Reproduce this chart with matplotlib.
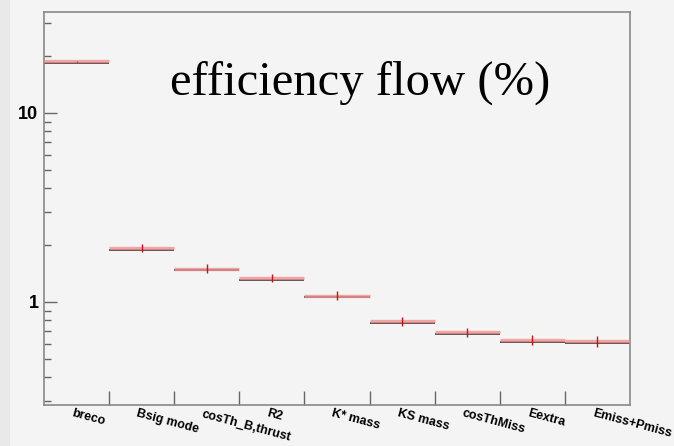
import matplotlib.pyplot as plt
import matplotlib.transforms as mtransforms
from matplotlib.patches import Rectangle
from matplotlib.ticker import LogLocator, NullFormatter, FixedLocator
import numpy as np

# selection steps and efficiency (%)
steps = ['breco', 'Bsig mode', 'cosTh_B,thrust', 'R2', 'K* mass',
         'KS mass', 'cosThMiss', 'Eextra', 'Emiss+Pmiss']
eff = [18.8, 1.93, 1.50, 1.34, 1.08, 0.79, 0.69, 0.63, 0.62]
err = [0.15, 0.09, 0.08, 0.07, 0.06, 0.045, 0.04, 0.04, 0.04]

bg = '#f4f4f4'
fig = plt.figure(figsize=(6.74, 4.46), dpi=100, facecolor=bg)
# darker stripe at the left edge of the slide
fig.patches.append(Rectangle((0, 0), 0.015, 1, transform=fig.transFigure,
                             facecolor='#e9e9e9', edgecolor='none', zorder=0))

ax = fig.add_axes([0.0653, 0.0919, 0.8694, 0.8811])
ax.set_facecolor(bg)
ax.set_yscale('log')
ax.set_xlim(0, len(steps))
ax.set_ylim(0.285, 34.2)

left = np.arange(len(steps))
right = left + 1
centers = left + 0.5

# black histogram line, drawn a touch lower than the red one
shift = mtransforms.offset_copy(ax.transData, fig=fig, y=-1.8, units='dots')
ax.hlines(eff, left, right, colors='#333333', lw=1.2, transform=shift, zorder=2)
ax.hlines(eff, left, right, colors='#f29090', lw=2.4, alpha=0.8, zorder=3)
ax.errorbar(centers, eff, yerr=err, fmt='none', ecolor='#cc1111', elinewidth=1,
            capsize=0, zorder=4)

ax.text(0.54, 0.82, 'efficiency flow (%)', transform=ax.transAxes,
        ha='center', va='center', fontsize=35, family='Liberation Serif')

# root-like axes
for s in ax.spines.values():
    s.set_color('#888888')
    s.set_linewidth(1.2)

ax.yaxis.set_major_locator(FixedLocator([1, 10]))
ax.yaxis.set_minor_locator(LogLocator(base=10, subs=np.arange(2, 10)))
ax.yaxis.set_minor_formatter(NullFormatter())
ax.set_yticklabels(['1', '10'], fontweight='bold', family='Liberation Sans',
                   fontsize=13)
ax.tick_params(axis='y', which='major', direction='in', length=9, width=1,
               color='#666666', pad=4)
ax.tick_params(axis='y', which='minor', direction='in', length=5, width=1,
               color='#666666')

ax.set_xticks(np.arange(1, len(steps)))
ax.set_xticklabels([])
ax.tick_params(axis='x', which='major', direction='in', length=10, width=1,
               color='#666666')
ax.tick_params(axis='x', which='minor', length=0)
ax.set_xticks(centers - 0.05, minor=True)
ax.set_xticklabels(steps, minor=True, rotation=-15, ha='left', va='top',
                   fontweight='bold', family='Liberation Sans', fontsize=9,
                   rotation_mode='anchor')
ax.tick_params(axis='x', which='minor', pad=2)

fig.savefig('out.png', dpi=100, facecolor=bg)
